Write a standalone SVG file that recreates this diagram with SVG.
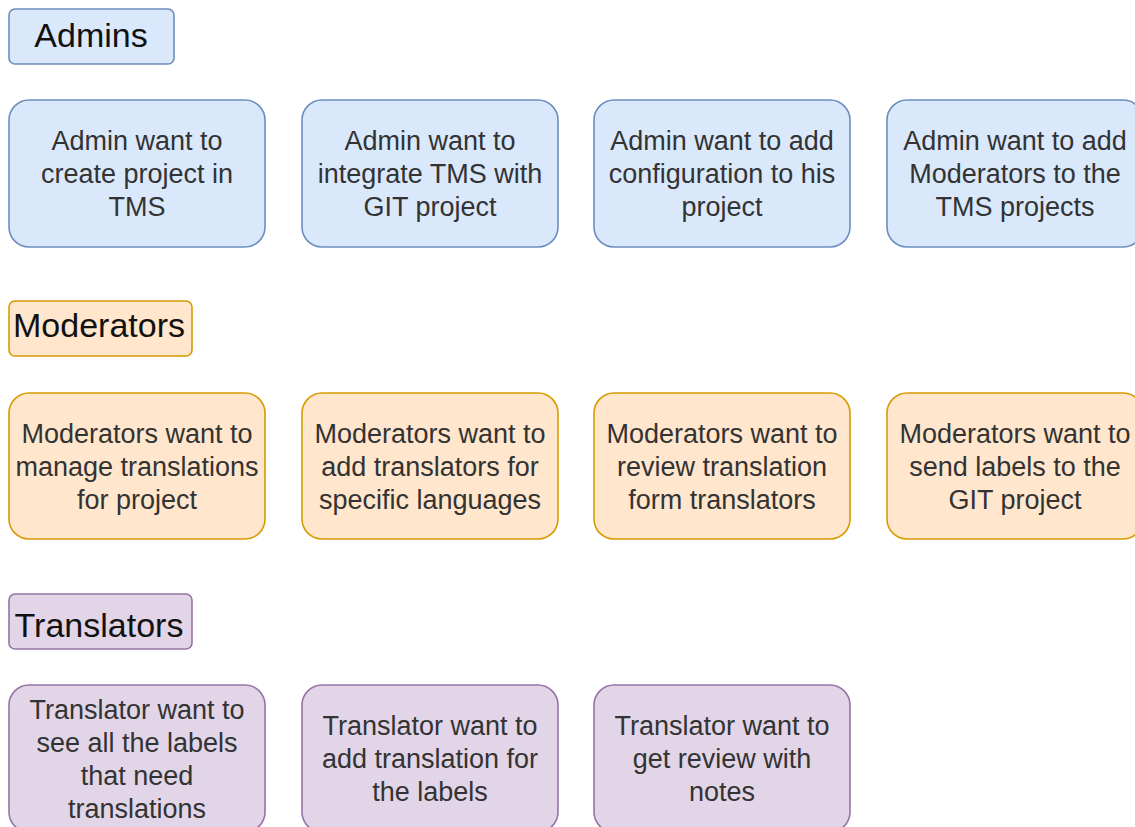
<svg xmlns="http://www.w3.org/2000/svg" width="1135" height="827" viewBox="0 0 1135 827">
  <style>
    .hdr { stroke-width: 1.6; }
    .node { stroke-width: 1.6; }
    .blue { fill: #dae8fc; stroke: #6c8ebf; }
    .orange { fill: #ffe6cc; stroke: #d79b00; }
    .purple { fill: #e1d5e7; stroke: #9673a6; }
    .htxt { font-family: "Liberation Sans", Arial, sans-serif; font-size: 34px; fill: #111111; text-anchor: middle; }
    .ntxt { font-family: "Liberation Sans", Arial, sans-serif; font-size: 27px; fill: #333333; text-anchor: middle; }
  </style>
  <rect width="1135" height="827" fill="#ffffff"/>

  <!-- Admins -->
  <g id="admins-header">
    <rect class="hdr blue" x="9" y="9" width="165" height="55" rx="6"/>
    <text class="htxt" x="91" y="46.5">Admins</text>
  </g>
  <g id="admin-create-project">
    <rect class="node blue" x="9" y="100" width="256" height="147" rx="20"/>
    <text class="ntxt" x="137"><tspan x="137" y="150">Admin want to</tspan><tspan x="137" y="183">create project in</tspan><tspan x="137" y="216">TMS</tspan></text>
  </g>
  <g id="admin-integrate-git">
    <rect class="node blue" x="302" y="100" width="256" height="147" rx="20"/>
    <text class="ntxt" x="430"><tspan x="430" y="150">Admin want to</tspan><tspan x="430" y="183">integrate TMS with</tspan><tspan x="430" y="216">GIT project</tspan></text>
  </g>
  <g id="admin-add-configuration">
    <rect class="node blue" x="594" y="100" width="256" height="147" rx="20"/>
    <text class="ntxt" x="722"><tspan x="722" y="150">Admin want to add</tspan><tspan x="722" y="183">configuration to his</tspan><tspan x="722" y="216">project</tspan></text>
  </g>
  <g id="admin-add-moderators">
    <rect class="node blue" x="887" y="100" width="256" height="147" rx="20"/>
    <text class="ntxt" x="1015"><tspan x="1015" y="150">Admin want to add</tspan><tspan x="1015" y="183">Moderators to the</tspan><tspan x="1015" y="216">TMS projects</tspan></text>
  </g>

  <!-- Moderators -->
  <g id="moderators-header">
    <rect class="hdr orange" x="9" y="301" width="183" height="55" rx="6"/>
    <text class="htxt" x="99" y="336.7">Moderators</text>
  </g>
  <g id="moderator-manage-translations">
    <rect class="node orange" x="9" y="393" width="256" height="146" rx="20"/>
    <text class="ntxt" x="137"><tspan x="137" y="443">Moderators want to</tspan><tspan x="137" y="476">manage translations</tspan><tspan x="137" y="509">for project</tspan></text>
  </g>
  <g id="moderator-add-translators">
    <rect class="node orange" x="302" y="393" width="256" height="146" rx="20"/>
    <text class="ntxt" x="430"><tspan x="430" y="443">Moderators want to</tspan><tspan x="430" y="476">add translators for</tspan><tspan x="430" y="509">specific languages</tspan></text>
  </g>
  <g id="moderator-review-translation">
    <rect class="node orange" x="594" y="393" width="256" height="146" rx="20"/>
    <text class="ntxt" x="722"><tspan x="722" y="443">Moderators want to</tspan><tspan x="722" y="476">review translation</tspan><tspan x="722" y="509">form translators</tspan></text>
  </g>
  <g id="moderator-send-labels">
    <rect class="node orange" x="887" y="393" width="256" height="146" rx="20"/>
    <text class="ntxt" x="1015"><tspan x="1015" y="443">Moderators want to</tspan><tspan x="1015" y="476">send labels to the</tspan><tspan x="1015" y="509">GIT project</tspan></text>
  </g>

  <!-- Translators -->
  <g id="translators-header">
    <rect class="hdr purple" x="9" y="594" width="183" height="55" rx="6"/>
    <text class="htxt" x="99" y="636.7">Translators</text>
  </g>
  <g id="translator-see-labels">
    <rect class="node purple" x="9" y="685" width="256" height="147" rx="20"/>
    <text class="ntxt" x="137"><tspan x="137" y="719">Translator want to</tspan><tspan x="137" y="752">see all the labels</tspan><tspan x="137" y="785">that need</tspan><tspan x="137" y="818">translations</tspan></text>
  </g>
  <g id="translator-add-translation">
    <rect class="node purple" x="302" y="685" width="256" height="147" rx="20"/>
    <text class="ntxt" x="430"><tspan x="430" y="735">Translator want to</tspan><tspan x="430" y="768">add translation for</tspan><tspan x="430" y="801">the labels</tspan></text>
  </g>
  <g id="translator-get-review">
    <rect class="node purple" x="594" y="685" width="256" height="147" rx="20"/>
    <text class="ntxt" x="722"><tspan x="722" y="735">Translator want to</tspan><tspan x="722" y="768">get review with</tspan><tspan x="722" y="801">notes</tspan></text>
  </g>

  <!-- no connectors in this diagram -->
  <g id="connectors"/>
</svg>
